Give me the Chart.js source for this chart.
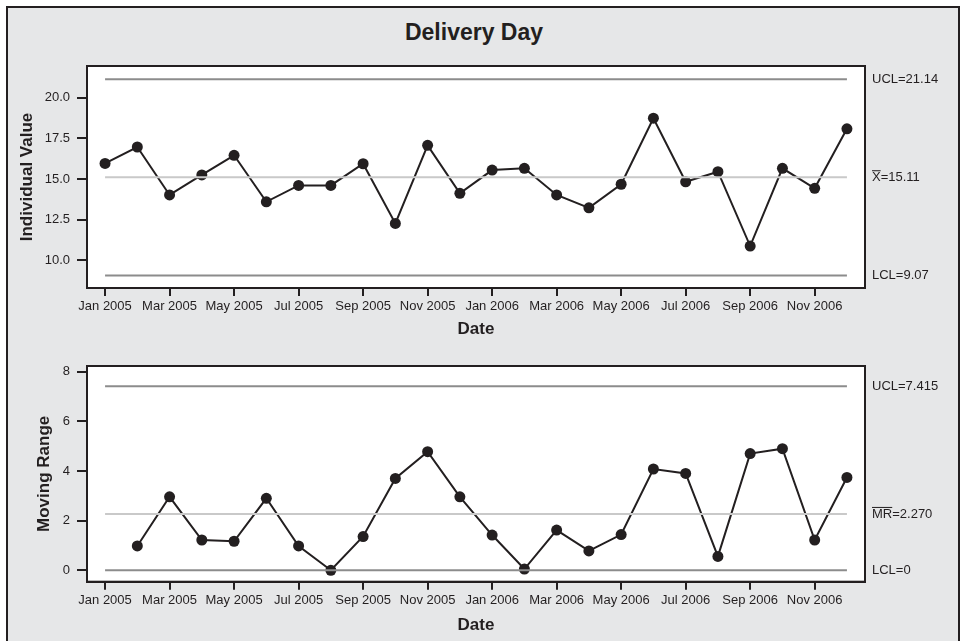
<!DOCTYPE html>
<html>
<head>
<meta charset="utf-8">
<title>Delivery Day</title>
<script src="https://cdn.jsdelivr.net/npm/chart.js@4"></script>
<style>
    body {
        margin: 0;
        width: 963px;
        height: 641px;
        overflow: hidden;
        background: #ffffff;
        font-family: "Liberation Sans", Arial, sans-serif;
    }
    .frame {
        position: absolute;
        left: 6px;
        top: 6px;
        width: 950px;
        height: 700px;
        background: #e6e7e8;
        border: 2px solid #231f20;
    }
    .title {
        position: absolute;
        left: 0;
        top: 21px;
        width: 948px;
        text-align: center;
        font-size: 23px;
        line-height: 23px;
        font-weight: bold;
        color: #231f20;
    }
    canvas {
        position: absolute;
        left: 0;
    }
    #chartI { top: 40px; }
    #chartMR { top: 350px; }
</style>
</head>
<body>
<div class="frame"></div>
<div class="title">Delivery Day</div>
<canvas id="chartI" width="963" height="310"></canvas>
<canvas id="chartMR" width="963" height="291"></canvas>

<script>
// ===== Data =====
const months = [
    'Jan 2005', 'Feb 2005', 'Mar 2005', 'Apr 2005', 'May 2005', 'Jun 2005',
    'Jul 2005', 'Aug 2005', 'Sep 2005', 'Oct 2005', 'Nov 2005', 'Dec 2005',
    'Jan 2006', 'Feb 2006', 'Mar 2006', 'Apr 2006', 'May 2006', 'Jun 2006',
    'Jul 2006', 'Aug 2006', 'Sep 2006', 'Oct 2006', 'Nov 2006', 'Dec 2006'
];
const monthTicks = [0, 2, 4, 6, 8, 10, 12, 14, 16, 18, 20, 22];

const individualValues = [
    15.96, 16.97, 14.02, 15.25, 16.46, 13.60, 14.61, 14.61, 15.94, 12.27, 17.07, 14.12,
    15.55, 15.66, 14.02, 13.23, 14.68, 18.74, 14.83, 15.45, 10.88, 15.66, 14.43, 18.09
];
const movingRanges = [
    null, 0.98, 2.96, 1.22, 1.17, 2.90, 0.98, 0.00, 1.36, 3.70, 4.78, 2.96,
    1.42, 0.05, 1.62, 0.78, 1.44, 4.08, 3.90, 0.56, 4.70, 4.90, 1.22, 3.74
];

const iLimits = { ucl: 21.14, center: 15.11, lcl: 9.07 };
const mrLimits = { ucl: 7.415, center: 2.270, lcl: 0 };

const iTicks = [10, 12.5, 15, 17.5, 20];
const mrTicks = [0, 2, 4, 6, 8];

const iLabels = [
    { value: iLimits.ucl, bar: '', text: 'UCL=21.14' },
    { value: iLimits.center, bar: 'X', text: '=15.11' },
    { value: iLimits.lcl, bar: '', text: 'LCL=9.07' }
];
const mrLabels = [
    { value: mrLimits.ucl, bar: '', text: 'UCL=7.415' },
    { value: mrLimits.center, bar: 'MR', text: '=2.270' },
    { value: mrLimits.lcl, bar: '', text: 'LCL=0' }
];

// ===== Styling =====
const INK = '#231f20';
const FONT = '"Liberation Sans", Arial, sans-serif';

// white plot area + full box + limit labels on the right
const panelPlugin = {
    id: 'panel',
    beforeDraw(chart) {
        const a = chart.chartArea;
        const ctx = chart.ctx;
        ctx.save();
        ctx.fillStyle = '#ffffff';
        ctx.fillRect(a.left, a.top, a.right - a.left, a.bottom - a.top);
        ctx.restore();
    },
    afterDraw(chart, args, opts) {
        const a = chart.chartArea;
        const ctx = chart.ctx;
        ctx.save();
        ctx.strokeStyle = INK;
        ctx.lineWidth = 2;
        ctx.strokeRect(a.left, a.top, a.right - a.left, a.bottom - a.top);

        ctx.font = '13px ' + FONT;
        ctx.fillStyle = INK;
        ctx.textBaseline = 'middle';
        ctx.textAlign = 'left';
        (opts.labels || []).forEach(lab => {
            const y = chart.scales.y.getPixelForValue(lab.value);
            let x = a.right + 7;
            if (lab.bar) {
                ctx.fillText(lab.bar, x, y);
                const w = ctx.measureText(lab.bar).width;
                ctx.fillRect(x, y - 7, w, 1);
                x += w;
            }
            ctx.fillText(lab.text, x, y);
        });
        ctx.restore();
    }
};

function limitLine(value, color) {
    return {
        data: [{ x: 0, y: value }, { x: months.length - 1, y: value }],
        borderColor: color,
        borderWidth: 2,
        pointRadius: 0
    };
}

function makeChart(canvasId, values, limits, opts) {
    const ctx = document.getElementById(canvasId).getContext('2d');
    const points = values.map((v, i) => ({ x: i, y: v }));

    return new Chart(ctx, {
        type: 'line',
        data: {
            datasets: [
                limitLine(limits.ucl, '#8c8c8c'),
                limitLine(limits.center, '#c9c9c9'),
                limitLine(limits.lcl, '#8c8c8c'),
                {
                    data: points,
                    borderColor: INK,
                    borderWidth: 2,
                    pointRadius: 5.5,
                    pointBackgroundColor: INK,
                    pointBorderWidth: 0,
                    tension: 0
                }
            ]
        },
        options: {
            responsive: false,
            animation: false,
            layout: {
                padding: { top: opts.padTop, right: 98, bottom: 0, left: 0 }
            },
            plugins: {
                legend: { display: false },
                tooltip: { enabled: false },
                panel: { labels: opts.labels }
            },
            scales: {
                x: {
                    type: 'linear',
                    min: -0.56,
                    max: 23.56,
                    afterFit: scale => { scale.height = opts.xHeight; },
                    afterBuildTicks: scale => {
                        scale.ticks = monthTicks.map(v => ({ value: v }));
                    },
                    grid: {
                        drawOnChartArea: false,
                        drawTicks: true,
                        tickLength: 8,
                        color: INK,
                        lineWidth: 2
                    },
                    border: { display: true, color: INK, width: 2 },
                    ticks: {
                        padding: 3,
                        maxRotation: 0,
                        autoSkip: false,
                        color: INK,
                        font: { family: FONT, size: 13 },
                        callback: value => months[value]
                    },
                    title: {
                        display: true,
                        text: 'Date',
                        color: INK,
                        font: { family: FONT, size: 17, weight: 'bold' },
                        padding: { top: 0, bottom: opts.xTitlePad }
                    }
                },
                y: {
                    min: opts.yMin,
                    max: opts.yMax,
                    afterFit: scale => { scale.width = 87; },
                    afterBuildTicks: scale => {
                        scale.ticks = opts.yTicks.map(v => ({ value: v }));
                    },
                    grid: {
                        drawOnChartArea: false,
                        drawTicks: true,
                        tickLength: 10,
                        color: INK,
                        lineWidth: 2
                    },
                    border: { display: true, color: INK, width: 2 },
                    ticks: {
                        padding: 7,
                        color: INK,
                        font: { family: FONT, size: 13 },
                        callback: opts.yFormat
                    },
                    title: {
                        display: true,
                        text: opts.yTitle,
                        color: INK,
                        font: { family: FONT, size: 17, weight: 'bold' },
                        padding: { top: opts.yTitlePad, bottom: 0 }
                    }
                }
            }
        },
        plugins: [panelPlugin]
    });
}

// ===== Individuals chart =====
makeChart('chartI', individualValues, iLimits, {
    padTop: 26,
    xHeight: 62,
    xTitlePad: 10,
    yMin: 8.3,
    yMax: 21.95,
    yTicks: iTicks,
    yFormat: v => Number(v).toFixed(1),
    yTitle: 'Individual Value',
    yTitlePad: 17,
    labels: iLabels
});

// ===== Moving range chart =====
makeChart('chartMR', movingRanges, mrLimits, {
    padTop: 16,
    xHeight: 59.3,
    xTitlePad: 5,
    yMin: -0.46,
    yMax: 8.23,
    yTicks: mrTicks,
    yFormat: v => String(v),
    yTitle: 'Moving Range',
    yTitlePad: 34,
    labels: mrLabels
});
</script>
</body>
</html>
